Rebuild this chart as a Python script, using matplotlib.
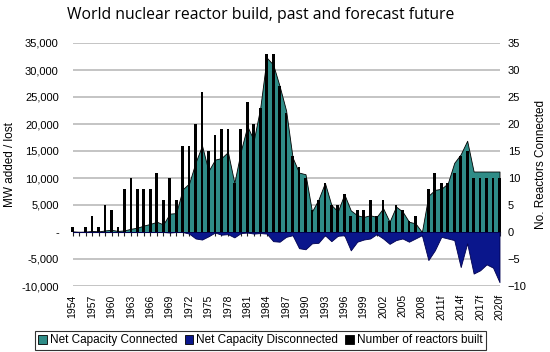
import numpy as np
import matplotlib
matplotlib.use("Agg")
import matplotlib.pyplot as plt
from matplotlib.ticker import FuncFormatter, MultipleLocator
from matplotlib.patches import Patch

plt.rcParams['font.family'] = ['Liberation Sans', 'DejaVu Sans']

years = list(range(1954, 2021))
# forecast years get an "f" suffix
year_labels = [str(y) if y < 2011 else str(y) + 'f' for y in years]

# MW net capacity connected per year
connected = [100, 0, 50, 200, 100, 300, 400, 200, 300, 600,
             800, 1200, 1500, 1900, 1400, 3400, 3500, 7900, 9000, 12900,
             16000, 11300, 13400, 13700, 14800, 9100, 15000, 19600, 17000, 23000,
             32300, 31000, 27000, 22500, 13800, 11000, 10700, 3800, 6000, 9100,
             5000, 3800, 7000, 4000, 3100, 2800, 3100, 2800, 4400, 1900,
             4700, 3800, 1900, 1600, 0, 6700, 7800, 8000, 9000, 12800,
             14400, 16900, 11200, 11200, 11200, 11200, 11200]

# MW net capacity disconnected per year
disconnected = [0, 0, 0, 0, 0, 0, 0, 0, 0, 0,
                0, 0, 0, 0, 0, -100, 0, 0, -300, -1200,
                -1400, -800, -100, -500, -400, -1000, -200, -100, -300, -200,
                -300, -1700, -1800, -900, -600, -3000, -3200, -2100, -2000, -600,
                -1700, -700, -600, -3400, -1800, -1400, -1200, -400, -1200, -2200,
                -1500, -1200, -1800, -1200, -600, -5200, -3400, -900, -1200, -1500,
                -6500, -2100, -7700, -7100, -6000, -6600, -9300]

# number of reactors connected per year
reactors = [1, 0, 1, 3, 1, 5, 4, 1, 8, 10,
            8, 8, 8, 11, 6, 10, 6, 16, 16, 20,
            26, 15, 18, 19, 19, 9, 19, 24, 20, 23,
            33, 33, 27, 22, 14, 12, 10, 4, 6, 9,
            5, 5, 7, 3, 4, 4, 6, 3, 6, 2,
            5, 4, 2, 3, 0, 8, 11, 9, 9, 11,
            14, 15, 10, 10, 10, 10, 10]

x = np.arange(len(years))
teal = '#2f8c87'
navy = '#0a168c'

fig = plt.figure(figsize=(5.5, 3.52), dpi=100)
ax = fig.add_axes([72.7 / 550, 1 - 286 / 352, (499.5 - 72.7) / 550, (286 - 43) / 352])

ax.fill_between(x, 0, connected, facecolor=teal, edgecolor='black', lw=0.6, zorder=2)
ax.fill_between(x, 0, disconnected, facecolor=navy, edgecolor='#000050', lw=0.6, zorder=2)

ax.set_xlim(0, len(years) - 1)
ax.set_ylim(-10000, 35000)
ax.yaxis.set_major_locator(MultipleLocator(5000))
ax.yaxis.set_major_formatter(FuncFormatter(lambda v, p: '-' if v == 0 else format(int(v), ',')))
ax.grid(axis='y', color='#b4b4b4', lw=1.1)
ax.set_axisbelow(True)
for s in ax.spines.values():
    s.set_visible(False)
ax.tick_params(axis='y', length=0, labelsize=8, pad=10)
ax.set_xticks(x[::3])
ax.set_xticklabels(year_labels[::3], rotation=90, fontsize=7.5)
ax.tick_params(axis='x', length=0, pad=6)
ax.set_ylabel('MW added / lost', fontsize=8.5, labelpad=4)

# category axis line with tick marks at zero
zero_ax = ax.secondary_xaxis(10000 / 45000)
zero_ax.set_xticks(x, labels=[])
zero_ax.tick_params(axis='x', length=3, width=0.8, direction='out', color='#202020')
zero_ax.spines['bottom'].set_color('#202020')
zero_ax.spines['bottom'].set_linewidth(0.8)

ax2 = ax.twinx()
ax2.bar(x, reactors, width=0.42, color='black', zorder=3, clip_on=False)
ax2.set_ylim(-10, 35)
ax2.yaxis.set_major_locator(MultipleLocator(5))
for s in ax2.spines.values():
    s.set_visible(False)
ax2.tick_params(axis='y', length=0, labelsize=8, pad=6)
ax2.set_ylabel('No. Reactors Connected', fontsize=8.5, labelpad=6)

fig.text(261 / 550, 1 - 15 / 352, 'World nuclear reactor build, past and forecast future',
         ha='center', va='center', fontsize=11.3, family=['Open Sans', 'DejaVu Sans'])

handles = [Patch(facecolor=teal, edgecolor='black', lw=0.6),
           Patch(facecolor=navy, edgecolor='black', lw=0.6),
           Patch(facecolor='black', edgecolor='black', lw=0.6)]
leg = fig.legend(handles, ['Net Capacity Connected', 'Net Capacity Disconnected', 'Number of reactors built'],
                 loc='lower center', bbox_to_anchor=(260.5 / 550, 2 / 352), ncol=3, fontsize=8.5,
                 frameon=True, fancybox=False, edgecolor='black', handlelength=0.75, handleheight=0.75,
                 handletextpad=0.25, columnspacing=0.6, borderpad=0.3, borderaxespad=0)
leg.get_frame().set_linewidth(0.8)

fig.savefig('out.png', dpi=100)
